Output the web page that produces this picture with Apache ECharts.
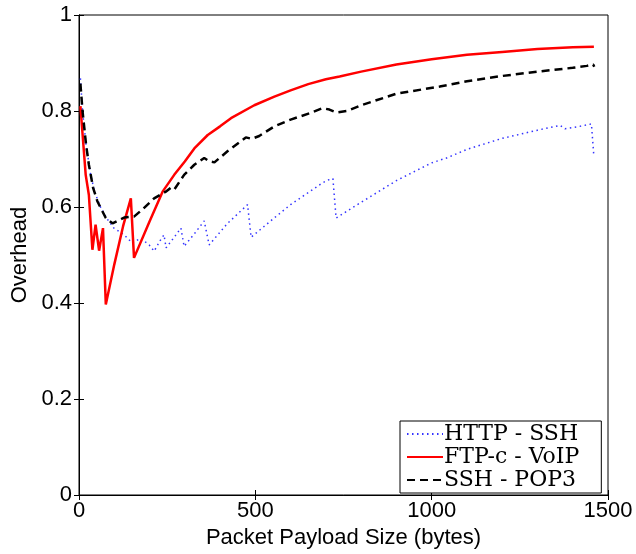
<!DOCTYPE html>
<html>
<head>
<meta charset="utf-8">
<script src="https://cdn.jsdelivr.net/npm/echarts@6/dist/echarts.min.js"></script>
<style>
  html, body { margin: 0; padding: 0; background: #fff; }
  #chart { width: 636px; height: 554px; }
</style>
</head>
<body>
<div id="chart"></div>
<script>
// 数据：横轴为包负载大小 (bytes)，纵轴为开销
const seriesNames = ['HTTP - SSH', 'FTP-c - VoIP', 'SSH - POP3'];

const httpX = [4, 10, 20, 33, 45, 62, 80, 99, 128, 151, 175, 199, 213, 230, 241, 247, 270, 289, 298, 330, 355, 369, 420, 478, 488, 550, 600, 650, 690, 705, 720, 729, 796, 900, 1000, 1042, 1100, 1200, 1300, 1364, 1378, 1420, 1453, 1460];
const httpY = [0.868, 0.80, 0.73, 0.667, 0.63, 0.598, 0.575, 0.556, 0.542, 0.525, 0.535, 0.521, 0.508, 0.53, 0.542, 0.515, 0.537, 0.556, 0.518, 0.547, 0.571, 0.521, 0.565, 0.605, 0.537, 0.575, 0.605, 0.630, 0.650, 0.656, 0.659, 0.577, 0.608, 0.655, 0.692, 0.702, 0.72, 0.743, 0.760, 0.770, 0.763, 0.768, 0.773, 0.705];

const ftpX = [4, 19, 28, 38, 47, 57, 68, 76, 100, 125, 147, 156, 200, 237, 270, 300, 327, 365, 400, 431, 497, 554, 600, 650, 700, 739, 800, 900, 1000, 1100, 1200, 1300, 1400, 1460];
const ftpY = [0.81, 0.667, 0.625, 0.511, 0.563, 0.509, 0.556, 0.397, 0.48, 0.56, 0.618, 0.494, 0.57, 0.632, 0.667, 0.695, 0.722, 0.75, 0.768, 0.785, 0.812, 0.83, 0.843, 0.856, 0.866, 0.872, 0.882, 0.897, 0.908, 0.917, 0.923, 0.929, 0.933, 0.934];

const sshX = [4, 10, 20, 28, 40, 52, 76, 95, 128, 156, 180, 213, 246, 260, 270, 298, 327, 355, 370, 384, 421, 473, 490, 511, 554, 600, 653, 690, 710, 730, 760, 800, 900, 1023, 1100, 1200, 1300, 1400, 1440, 1458, 1461];
const sshY = [0.857, 0.80, 0.73, 0.688, 0.64, 0.612, 0.577, 0.566, 0.578, 0.58, 0.595, 0.618, 0.632, 0.64, 0.636, 0.667, 0.688, 0.702, 0.695, 0.693, 0.716, 0.745, 0.742, 0.748, 0.768, 0.782, 0.795, 0.806, 0.803, 0.797, 0.800, 0.812, 0.836, 0.851, 0.862, 0.873, 0.882, 0.890, 0.894, 0.897, 0.892];

const xTicks = [0, 500, 1000, 1500];
const yTicks = [0, 0.2, 0.4, 0.6, 0.8, 1];

function zip(xs, ys) {
    return xs.map((x, i) => [x, ys[i]]);
}

const chart = echarts.init(document.getElementById('chart'));

const sansFont = '"Liberation Sans", Arial, sans-serif';
const serifFont = '"DejaVu Serif", "Liberation Serif", serif';

const axisCommon = {
    axisLine: { show: true, lineStyle: { color: '#000', width: 1 } },
    axisTick: { show: true, inside: true, length: 5, lineStyle: { color: '#000' } },
    splitLine: { show: false }
};

const option = {
    animation: false,
    backgroundColor: '#fff',
    grid: {
        left: 79, right: 28, top: 15, bottom: 57,
        show: true, borderColor: '#000', borderWidth: 1
    },
    legend: {
        orient: 'vertical',
        left: 400, top: 421,
        data: seriesNames,
        backgroundColor: '#fff',
        borderColor: '#000',
        borderWidth: 1,
        padding: [2, 22, 2, 6],
        itemGap: 1,
        itemWidth: 36,
        itemHeight: 14,
        itemStyle: { opacity: 0 },
        textStyle: { fontFamily: serifFont, fontSize: 22, lineHeight: 22, color: '#000', padding: [0, 0, 0, -4] }
    },
    xAxis: [{
        type: 'value',
        min: xTicks[0], max: xTicks[xTicks.length - 1], interval: 500,
        name: 'Packet Payload Size (bytes)',
        nameLocation: 'middle',
        nameGap: 32,
        nameTextStyle: { fontFamily: sansFont, fontSize: 22, color: '#000' },
        axisLabel: { fontFamily: sansFont, fontSize: 22, color: '#000', margin: 5, formatter: v => String(v) },
        ...axisCommon
    }, {
        type: 'value', position: 'top',
        min: xTicks[0], max: xTicks[xTicks.length - 1], interval: 500,
        axisLabel: { show: false },
        ...axisCommon
    }],
    yAxis: [{
        type: 'value',
        min: yTicks[0], max: yTicks[yTicks.length - 1], interval: 0.2,
        name: 'Overhead',
        nameLocation: 'middle',
        nameGap: 44,
        nameTextStyle: { fontFamily: sansFont, fontSize: 22, color: '#000' },
        axisLabel: { fontFamily: sansFont, fontSize: 22, color: '#000', margin: 7 },
        ...axisCommon
    }, {
        type: 'value', position: 'right',
        min: yTicks[0], max: yTicks[yTicks.length - 1], interval: 0.2,
        axisLabel: { show: false },
        ...axisCommon
    }],
    series: [{
        name: seriesNames[0],
        type: 'line',
        data: zip(httpX, httpY),
        symbol: 'none',
        lineStyle: { color: '#3333ff', width: 1.5, type: [1.5, 3.5] },
        itemStyle: { color: '#3333ff' }
    }, {
        name: seriesNames[1],
        type: 'line',
        data: zip(ftpX, ftpY),
        symbol: 'none',
        lineStyle: { color: '#ff0000', width: 2.5 },
        itemStyle: { color: '#ff0000' }
    }, {
        name: seriesNames[2],
        type: 'line',
        data: zip(sshX, sshY),
        symbol: 'none',
        lineStyle: { color: '#000', width: 2.5, type: [8, 5] },
        itemStyle: { color: '#000' }
    }]
};

chart.setOption(option);
</script>
</body>
</html>
